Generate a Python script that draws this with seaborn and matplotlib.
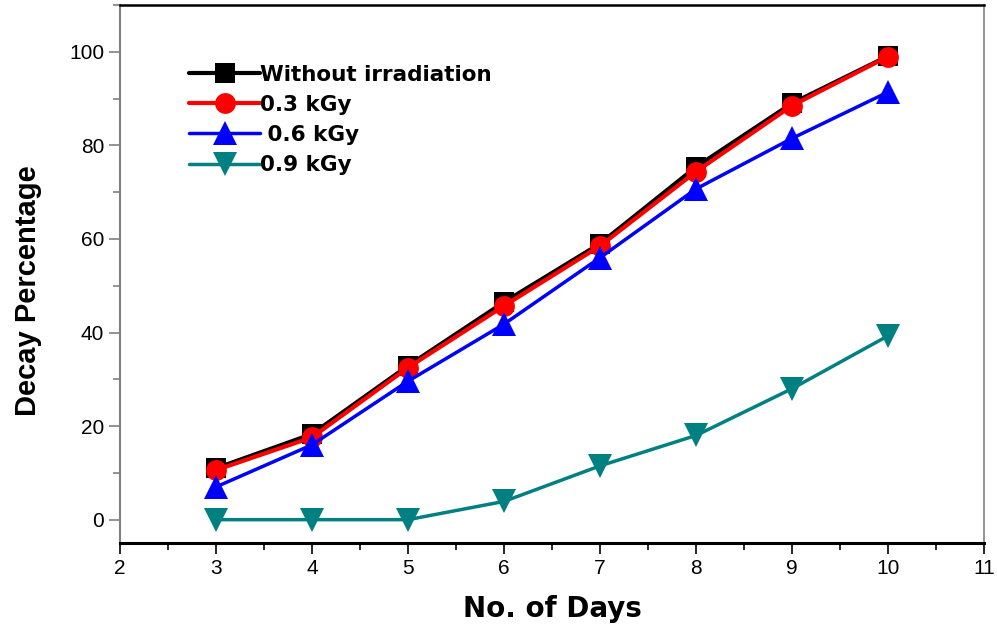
import numpy as np
import pandas as pd
import matplotlib
matplotlib.use("Agg")
import matplotlib.pyplot as plt
import seaborn as sns
from matplotlib.ticker import MultipleLocator

# dados
days = [3, 4, 5, 6, 7, 8, 9, 10]
without_irradiation = [11.0, 18.3, 32.9, 46.5, 59.0, 75.4, 89.0, 99.1]
kgy_03 = [10.6, 17.6, 32.5, 45.7, 58.5, 74.4, 88.5, 99.0]
kgy_06 = [7.0, 16.0, 29.6, 41.8, 56.0, 70.7, 81.5, 91.4]
kgy_09 = [0.0, 0.0, 0.0, 3.9, 11.5, 18.0, 28.0, 39.3]

labels = ['Without irradiation', '0.3 kGy', ' 0.6 kGy', '0.9 kGy']
series = [without_irradiation, kgy_03, kgy_06, kgy_09]
colors = ['#000000', '#FF0000', '#0000FF', '#008080']
markers = ['s', 'o', '^', 'v']
widths = [3.0, 3.0, 2.5, 2.5]
msizes = [14, 15, 17, 17]

sns.set_style('ticks')
plt.rcParams['font.family'] = ['Liberation Sans', 'DejaVu Sans']
plt.rcParams['text.color'] = 'black'
plt.rcParams['axes.labelcolor'] = 'black'

fig = plt.figure(figsize=(9.97, 6.3), dpi=100)
ax = fig.add_axes([0.1204, 0.138, 0.8666, 0.854])

for lab, vals, c, m, lw, ms in zip(labels, series, colors, markers, widths, msizes):
    df = pd.DataFrame({'day': days, 'value': vals})
    sns.lineplot(data=df, x='day', y='value', ax=ax, color=c, marker=m,
                 linewidth=lw, markersize=ms, markeredgewidth=0, label=lab)

ax.set_xlim(2, 11)
ax.set_ylim(-5, 110)
ax.xaxis.set_major_locator(MultipleLocator(1))
ax.xaxis.set_minor_locator(MultipleLocator(0.5))
ax.yaxis.set_minor_locator(MultipleLocator(10))
ax.set_yticks([0, 20, 40, 60, 80, 100])
ax.tick_params(axis='both', which='major', direction='out', length=8, width=1.2,
               labelsize=15, labelcolor='black')
ax.tick_params(axis='both', which='minor', direction='out', length=5, width=1.2)
ax.tick_params(axis='x', which='both', colors='black')
ax.tick_params(axis='y', which='both', colors='#808080', labelcolor='black')

ax.spines['bottom'].set_color('black')
ax.spines['top'].set_color('black')
ax.spines['bottom'].set_linewidth(2.2)
ax.spines['top'].set_linewidth(1.8)
ax.spines['left'].set_color('#808080')
ax.spines['left'].set_linewidth(1.5)
ax.spines['right'].set_color('#808080')
ax.spines['right'].set_linewidth(1.2)

ax.set_xlabel('No. of Days', fontsize=20, fontweight='bold',
              family=['DejaVu Sans'], labelpad=12, color='black')
ax.set_ylabel('Decay Percentage', fontsize=21, fontweight='bold',
              family=['Liberation Sans Narrow', 'Liberation Sans', 'DejaVu Sans'],
              color='black')
ax.yaxis.set_label_coords(-0.09, 0.47)

leg = ax.legend(loc='upper left', bbox_to_anchor=(0.07, 0.905), frameon=False,
                handlelength=3.3, handletextpad=0.0, labelspacing=0.47,
                borderaxespad=0, prop={'family': 'DejaVu Sans', 'weight': 'bold', 'size': 15.5})
for t in leg.get_texts():
    t.set_color('black')

plt.savefig('out.png', dpi=100)
